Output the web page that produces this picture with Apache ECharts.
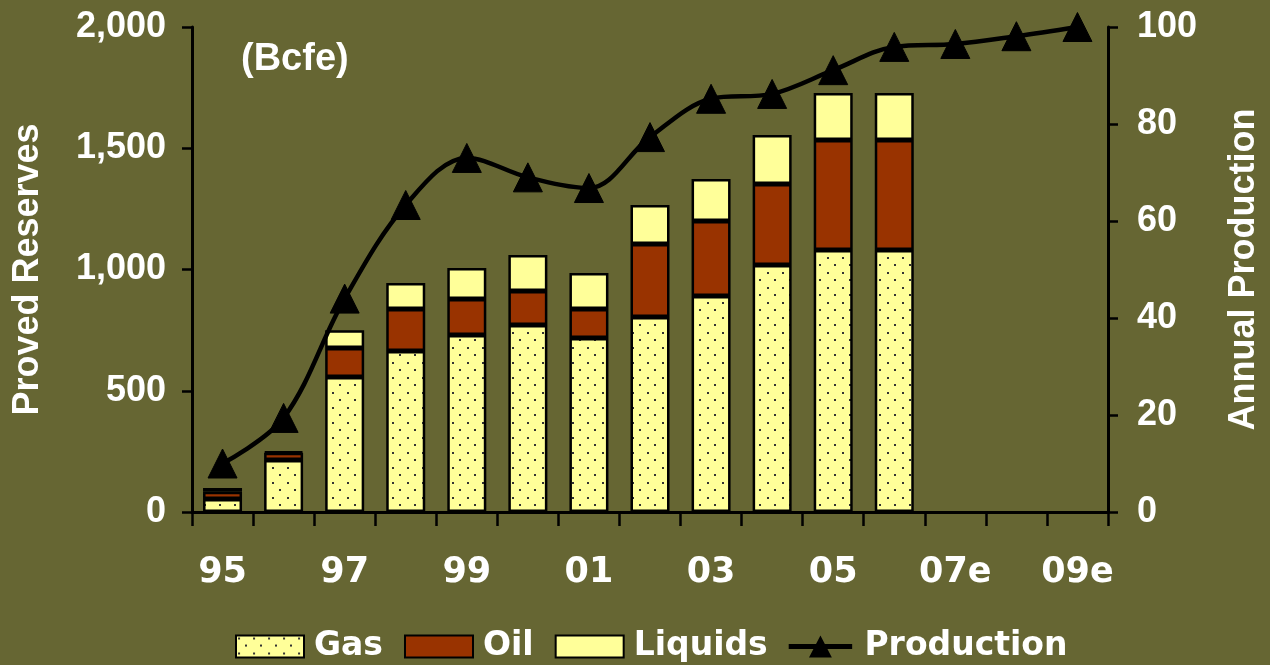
<!DOCTYPE html>
<html>
<head>
<meta charset="utf-8">
<script src="https://cdn.jsdelivr.net/npm/echarts@6/dist/echarts.min.js"></script>
<style>
html,body{margin:0;padding:0;background:#666633;}
#chart{width:1270px;height:665px;}
</style>
</head>
<body>
<div id="chart"></div>
<script>
const categories = ['95','96','97','98','99','00','01','02','03','04','05','06','07e','08e','09e'];
const gas =     [54, 214, 557, 664, 730, 771, 718, 804, 891, 1019, 1080, 1080];
const oil =     [30, 30, 119, 173, 148, 140, 119, 301, 309, 334, 454, 454];
const liquids = [15, 5, 74, 107, 128, 149, 149, 161, 173, 202, 194, 194];
const production = [10, 19.4, 44, 63.3, 73, 69, 66.8, 77.3, 85.2, 86.2, 91.1, 95.9, 96.5, 98.1, 100];
const leftTicks = [0, 500, 1000, 1500, 2000];
const rightTicks = [0, 20, 40, 60, 80, 100];

function dotPattern() {
  const c = document.createElement('canvas');
  c.width = 15; c.height = 15;
  const g = c.getContext('2d');
  g.fillStyle = '#FFFF99';
  g.fillRect(0, 0, 15, 15);
  g.fillStyle = '#333333';
  g.fillRect(2, 2, 2, 2);
  g.fillRect(9, 9, 2, 2);
  return c;
}
const gasFill = {image: dotPattern(), repeat: 'repeat'};

const chart = echarts.init(document.getElementById('chart'));
const yFont = {color: '#ffffff', fontFamily: '"Liberation Sans", Arial, sans-serif', fontWeight: 'bold', fontSize: 36};
const axisLineStyle = {color: '#000000', width: 3};

chart.setOption({
  backgroundColor: '#666633',
  animation: false,
  title: {
    text: '(Bcfe)', left: 236, top: 36,
    textStyle: {color: '#ffffff', fontFamily: '"Liberation Sans", Arial, sans-serif', fontWeight: 'bold', fontSize: 38}
  },
  grid: {left: 192, right: 162, top: 27, bottom: 153},
  legend: {
    top: 625, left: 230,
    itemWidth: 68, itemHeight: 22, itemGap: 21,
    textStyle: {color: '#ffffff', fontFamily: '"DejaVu Sans", Verdana, sans-serif', fontWeight: 'bold', fontSize: 33, padding: [0, 0, 0, 5]},
    data: [
      {name: 'Gas', icon: 'rect'},
      {name: 'Oil', icon: 'rect'},
      {name: 'Liquids', icon: 'rect'},
      {name: 'Production', icon: 'path://M0,10L75,10L75,16L0,16Z M37.5,0L51,26L24,26Z',
       itemStyle: {color: '#000', borderWidth: 0}}
    ]
  },
  xAxis: {
    type: 'category',
    data: categories,
    axisLine: {lineStyle: axisLineStyle},
    axisTick: {show: true, interval: 0, length: 14, lineStyle: {color: '#000', width: 2.5}},
    axisLabel: {interval: 1, color: '#ffffff', fontFamily: '"DejaVu Sans", Verdana, sans-serif', fontWeight: 'bold', fontSize: 35, margin: 43}
  },
  yAxis: [
    {
      type: 'value', min: leftTicks[0], max: leftTicks[leftTicks.length - 1], interval: 500,
      name: 'Proved Reserves', nameLocation: 'middle', nameGap: 146, nameRotate: 90,
      nameTextStyle: yFont,
      axisLine: {show: true, lineStyle: axisLineStyle},
      axisTick: {show: true, length: 10, lineStyle: {color: '#000', width: 2.5}},
      splitLine: {show: false},
      axisLabel: Object.assign({margin: 26, formatter: v => v.toLocaleString('en-US')}, yFont)
    },
    {
      type: 'value', min: rightTicks[0], max: rightTicks[rightTicks.length - 1], interval: 20,
      name: 'Annual Production', nameLocation: 'middle', nameGap: 118, nameRotate: 90,
      nameTextStyle: yFont,
      position: 'right',
      axisLine: {show: true, lineStyle: axisLineStyle},
      axisTick: {show: true, length: 10, lineStyle: {color: '#000', width: 2.5}},
      splitLine: {show: false},
      axisLabel: Object.assign({margin: 29}, yFont)
    }
  ],
  series: [
    {name: 'Gas', type: 'bar', stack: 'r', data: gas, barWidth: 39,
     itemStyle: {color: gasFill, borderColor: '#000', borderWidth: 2.5}},
    {name: 'Oil', type: 'bar', stack: 'r', data: oil, barWidth: 39,
     itemStyle: {color: '#993300', borderColor: '#000', borderWidth: 2.5}},
    {name: 'Liquids', type: 'bar', stack: 'r', data: liquids, barWidth: 39,
     itemStyle: {color: '#FFFF99', borderColor: '#000', borderWidth: 2.5}},
    {name: 'Production', type: 'line', yAxisIndex: 1, data: production, smooth: 0.35, z: 5,
     symbol: 'triangle', symbolSize: 29, showAllSymbol: true,
     lineStyle: {color: '#000', width: 4.5},
     itemStyle: {color: '#000', borderColor: '#000'}}
  ]
});
</script>
</body>
</html>
